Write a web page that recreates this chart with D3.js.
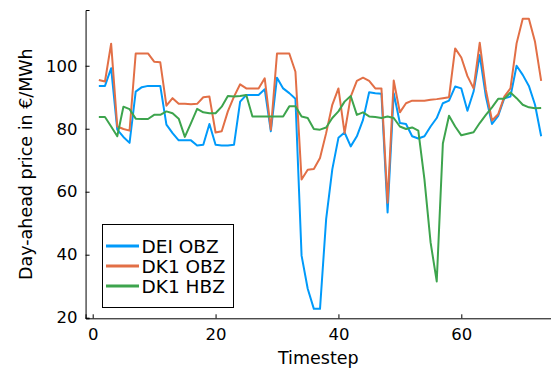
<!DOCTYPE html>
<html><head><meta charset="utf-8">
<script src="https://cdn.jsdelivr.net/npm/d3@7"></script>
<style>body{margin:0;background:#fff}svg{display:block}</style>
</head><body>
<svg id="c" width="551" height="369"></svg>
<script>
const timesteps = d3.range(1, 74);
const deiObz = [93.6,93.6,99.2,79.7,77.4,75.5,91.8,93.2,93.6,93.6,93.6,81.3,78.6,76.3,76.3,76.3,74.7,74.9,81.5,74.9,74.7,74.7,74.9,88.6,90.7,90.7,90.7,92.5,79.2,96.2,92.8,91.3,89.5,39.7,29.2,22.8,22.8,51.3,67.1,77.1,78.8,74.4,77.6,82.8,91.6,91.3,91.1,53.4,91.3,81.8,81.5,77.6,76.9,77.6,80.7,83.4,88.1,88.9,93.4,92.8,85.7,91.8,103.4,90.2,81.5,84.1,89.7,90.2,100,97.1,93.6,87.6,77.6];
const dk1Obz = [95.5,95,107,80.7,79.9,79.4,103.9,103.9,103.9,101.3,101.1,87.3,89.7,87.9,87.9,87.8,87.9,90,90.2,78.8,79.2,85.5,90.2,94.1,92.8,92.8,92.8,96,79.7,103.9,103.9,103.9,98.1,63.9,67,67.2,70.7,78.6,87.6,92.8,78.6,90.2,95.2,96.2,95.2,92.8,92.8,56.5,95.3,85.2,88.1,88.9,88.9,88.9,89.2,89.4,89.7,90,105.5,102.6,96.7,92.8,107.3,92.3,82.6,84.6,90.2,92.8,107.1,114.9,114.9,107.6,95.2];
const dk1Hbz = [83.7,83.7,80.7,77.6,87,86.2,83.2,83.1,83.1,84.4,84.4,85.5,84.9,83.2,77.4,81.8,86.3,85.2,84.9,84.9,87,90.4,90.2,90.4,90.7,83.9,83.9,83.9,83.9,83.9,83.9,87.1,87.1,83.9,83.4,79.9,79.7,80.4,83.4,85.5,88.6,90.4,84.4,85.2,83.9,83.7,83.4,83.9,83.4,80.7,79.9,80.4,79.4,63.9,43.9,31.5,75.3,84.1,80.7,77.9,78.4,78.9,81.8,84.4,86.8,89.5,89.5,91.5,89.7,87.6,86.8,86.5,86.6];
const seriesNames = ["DEI OBZ", "DK1 OBZ", "DK1 HBZ"];
const seriesColors = ["#009afa", "#e26f46", "#3da44d"];
const xTicks = [0, 20, 40, 60];
const yTicks = [20, 40, 60, 80, 100];

const svg = d3.select("#c");
const font = "DejaVu Sans, sans-serif";
const unit = (461.3 - 92.7) / 60;
const x = d3.scaleLinear().domain([-1.16, 75.16]).range([92.7 - 1.16 * unit, 92.7 + 75.16 * unit]);
const y = d3.scaleLinear().domain([19.8, 117.7]).range([318.3, 10]);
const [x0, x1] = x.range();
const [yb, yt] = y.range();

svg.append("defs").append("clipPath").attr("id", "clip")
  .append("rect").attr("x", x0).attr("y", yt).attr("width", x1 - x0).attr("height", yb - yt);

const data = [deiObz, dk1Obz, dk1Hbz];
const line = d3.line().x((d, i) => x(timesteps[i])).y(d => y(d));
const g = svg.append("g").attr("clip-path", "url(#clip)");
data.forEach((s, k) => {
  g.append("path").datum(s).attr("d", line).attr("fill", "none")
    .attr("stroke", seriesColors[k]).attr("stroke-width", 2).attr("stroke-linejoin", "round");
});

// axes
const xa = svg.append("g").attr("transform", `translate(0,${yb})`)
  .call(d3.axisBottom(x).tickValues(xTicks).tickSize(-4).tickPadding(10).tickFormat(d3.format("d")));
const ya = svg.append("g").attr("transform", `translate(${x0},0)`)
  .call(d3.axisLeft(y).tickValues(yTicks).tickSize(-4).tickPadding(8).tickFormat(d3.format("d")));
[xa, ya].forEach(a => {
  a.select(".domain").attr("stroke", "#000").attr("stroke-width", 1);
  a.selectAll(".tick line").attr("stroke", "#000");
  a.selectAll(".tick text").attr("font-family", font).attr("font-size", 16.5).attr("fill", "#000");
});
xa.selectAll(".tick text").attr("dy", "0.71em");

svg.append("text").attr("x", (x0 + 551) / 2).attr("y", 364)
  .attr("text-anchor", "middle").attr("font-family", font).attr("font-size", 17.5).text("Timestep");
svg.append("text").attr("transform", `translate(32,${(yb + yt) / 2}) rotate(-90)`)
  .attr("text-anchor", "middle").attr("font-family", font).attr("font-size", 17.5).text("Day-ahead price in €/MWh");

// legend
const lg = svg.append("g");
lg.append("rect").attr("x", 102.5).attr("y", 224.5).attr("width", 131).attr("height", 83)
  .attr("fill", "#fff").attr("stroke", "#000").attr("stroke-width", 1);
const rowY = [246, 266, 286];
seriesNames.forEach((n, k) => {
  lg.append("line").attr("x1", 106).attr("x2", 139).attr("y1", rowY[k]).attr("y2", rowY[k])
    .attr("stroke", seriesColors[k]).attr("stroke-width", 3);
  lg.append("text").attr("x", 141.5).attr("y", rowY[k] + 6.6).attr("font-family", font)
    .attr("font-size", 18.5).text(n);
});
</script>
</body></html>
